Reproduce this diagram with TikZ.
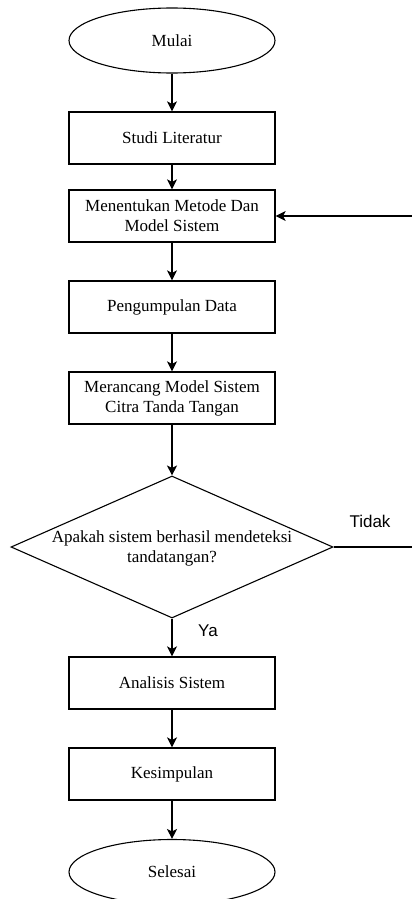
\documentclass[tikz,border=0pt]{standalone}
\usepackage{fontspec}
\setmainfont{Liberation Serif}
\newfontfamily\labelfont{Liberation Sans}
\usetikzlibrary{arrows.meta,shapes.geometric}
\begin{document}
\begin{tikzpicture}[x=1pt,y=-1pt,
  every node/.style={font=\fontsize{17}{20}\selectfont},
  proc/.style={draw,line width=1.2pt,rectangle,minimum width=206pt,minimum height=52pt,inner sep=0pt,align=center},
  term/.style={draw,line width=1.1pt,ellipse,minimum width=206pt,minimum height=65pt,inner sep=0pt},
  decision/.style={draw,line width=1.1pt,diamond,minimum width=322pt,minimum height=142pt,inner sep=0pt},
  conn/.style={line width=1.3pt,-{Stealth[length=10pt,width=10pt,inset=2.5pt]}},
  plain/.style={line width=1.3pt},
  lbl/.style={font=\labelfont\fontsize{17}{20}\selectfont}]
\useasboundingbox (0,0) rectangle (412,899);
\begin{scope}
\clip (0,0) rectangle (412,899);
\node[term] (mulai) at (172,40.5) {Mulai};
\node[proc] (studi) at (172,138) {Studi Literatur};
\node[proc] (metode) at (172,216) {Menentukan Metode Dan\\Model Sistem};
\node[proc] (data) at (172,307) {Pengumpulan Data};
\node[proc] (rancang) at (172,398) {Merancang Model Sistem\\Citra Tanda Tangan};
\node[decision] (dec) at (172,547) {};
\node[align=center,inner sep=0pt] (dectext) at (172,548) {Apakah sistem berhasil mendeteksi\\tandatangan?};
\node[proc] (analisis) at (172,683) {Analisis Sistem};
\node[proc] (kesimpulan) at (172,774) {Kesimpulan};
\node[term] (selesai) at (172,872) {Selesai};
\coordinate (loopin) at (412,216);
\coordinate (loopout) at (412,547);
\draw[conn] (mulai) -- (studi);
\draw[conn] (studi) -- (metode);
\draw[conn] (metode) -- (data);
\draw[conn] (data) -- (rancang);
\draw[conn] (rancang) -- (dec.north);
\draw[conn] (dec.south) -- (analisis);
\draw[conn] (analisis) -- (kesimpulan);
\draw[conn] (kesimpulan) -- (selesai);
\draw[plain] (dec.east) -- (loopout);
\draw[conn] (loopin) -- (metode.east);
\node[lbl] (tidak) at (370,521) {Tidak};
\node[lbl] (ya) at (208,631) {Ya};
\end{scope}
\end{tikzpicture}
\end{document}
